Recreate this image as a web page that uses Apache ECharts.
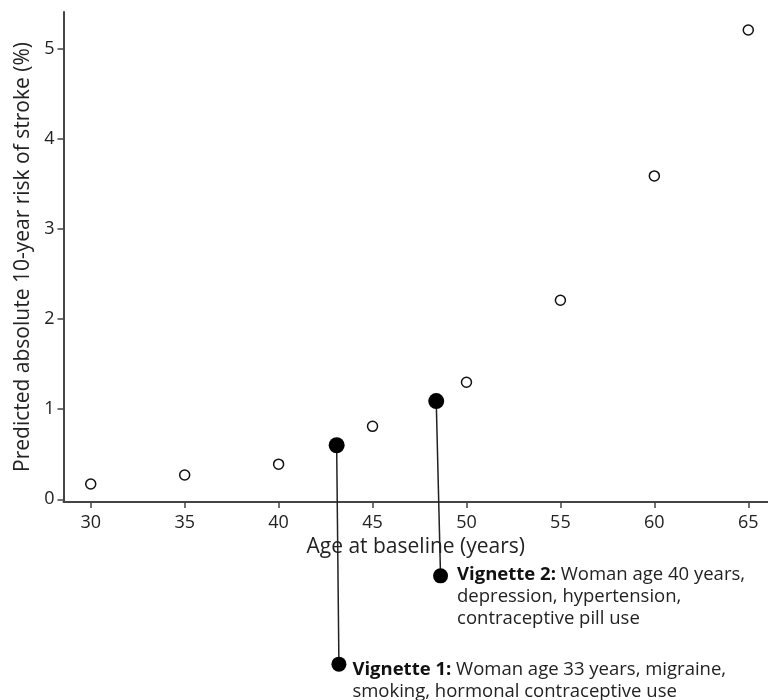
<!DOCTYPE html>
<html>
<head>
<meta charset="utf-8">
<script src="https://cdn.jsdelivr.net/npm/echarts@6/dist/echarts.min.js"></script>
<style>
html,body{margin:0;padding:0;background:#fff;}
#chart{width:768px;height:700px;}
</style>
</head>
<body>
<div id="chart"></div>
<script>
// Data
const ages = [30, 35, 40, 45, 50, 55, 60, 65];
const risk = [0.17, 0.27, 0.39, 0.81, 1.30, 2.21, 3.59, 5.21];
const xTicks = [30, 35, 40, 45, 50, 55, 60, 65];
const yTicks = [0, 1, 2, 3, 4, 5];
// Vignette points: [age, risk] and label anchor
const vignette1Point = [43.09, 0.60];
const vignette1Anchor = [43.21, -1.83];
const vignette2Point = [48.39, 1.09];
const vignette2Anchor = [48.62, -0.85];
const vignette1Title = 'Vignette 1:';
const vignette1Text = ' Woman age 33 years, migraine,\nsmoking, hormonal contraceptive use';
const vignette2Title = 'Vignette 2:';
const vignette2Text = ' Woman age 40 years,\ndepression, hypertension,\ncontraceptive pill use';

const FONT = '"Open Sans", "Noto Sans", sans-serif';
const chart = echarts.init(document.getElementById('chart'), null, {renderer: 'canvas'});

function vignetteSeries(pt, anchor, title, text, dist, dy) {
  const lines = text.split('\n');
  return {
    type: 'line',
    clip: false,
    z: 5,
    data: [
      {value: pt, symbolSize: 16},
      {value: anchor, symbolSize: 15, label: {
        show: true,
        position: 'right',
        distance: dist,
        offset: [0, dy],
        formatter: '{b|' + title + '}{t|' + lines[0] + '}\n' +
          lines.slice(1).map(s => '{t|' + s + '}').join('\n'),
        rich: {
          b: {fontFamily: FONT, fontSize: 18.5, fontWeight: 'bold', color: '#111', lineHeight: 22},
          t: {fontFamily: FONT, fontSize: 18.5, color: '#222', lineHeight: 22}
        }
      }}
    ],
    symbol: 'circle',
    itemStyle: {color: '#000'},
    lineStyle: {color: '#222', width: 1.5},
    silent: true,
    animation: false
  };
}

const option = {
  backgroundColor: '#fff',
  animation: false,
  grid: {left: 63.5, right: 0, top: 12, bottom: 198, containLabel: false},
  xAxis: {
    type: 'value',
    min: 28.55,
    max: 66.05,
    name: 'Age at baseline (years)',
    nameLocation: 'middle',
    nameGap: 31,
    nameTextStyle: {fontFamily: FONT, fontSize: 21, color: '#222'},
    axisLine: {show: true, onZero: false, lineStyle: {color: '#444', width: 2}},
    axisTick: {show: true, length: 6, customValues: xTicks, lineStyle: {color: '#444', width: 1.5}},
    axisLabel: {customValues: xTicks, margin: 12, fontFamily: FONT, fontSize: 18, color: '#222'},
    splitLine: {show: false}
  },
  yAxis: {
    type: 'value',
    min: -0.03,
    max: 5.41,
    name: 'Predicted absolute 10-year risk of stroke (%)',
    nameLocation: 'middle',
    nameGap: 30,
    nameTextStyle: {fontFamily: FONT, fontSize: 21, color: '#222'},
    axisLine: {show: true, onZero: false, lineStyle: {color: '#444', width: 2}},
    axisTick: {show: true, length: 6, customValues: yTicks, lineStyle: {color: '#444', width: 1.5}},
    axisLabel: {customValues: yTicks, margin: 9, fontFamily: FONT, fontSize: 18, color: '#222'},
    splitLine: {show: false}
  },
  series: [
    {
      type: 'scatter',
      data: ages.map((a, i) => [a, risk[i]]),
      symbol: 'circle',
      symbolSize: 10,
      itemStyle: {color: '#fff', borderColor: '#111', borderWidth: 1.5, opacity: 1},
      z: 4
    },
    vignetteSeries(vignette1Point, vignette1Anchor, vignette1Title, vignette1Text, 6, 17),
    vignetteSeries(vignette2Point, vignette2Anchor, vignette2Title, vignette2Text, 9, 21)
  ]
};
chart.setOption(option);
</script>
</body>
</html>
